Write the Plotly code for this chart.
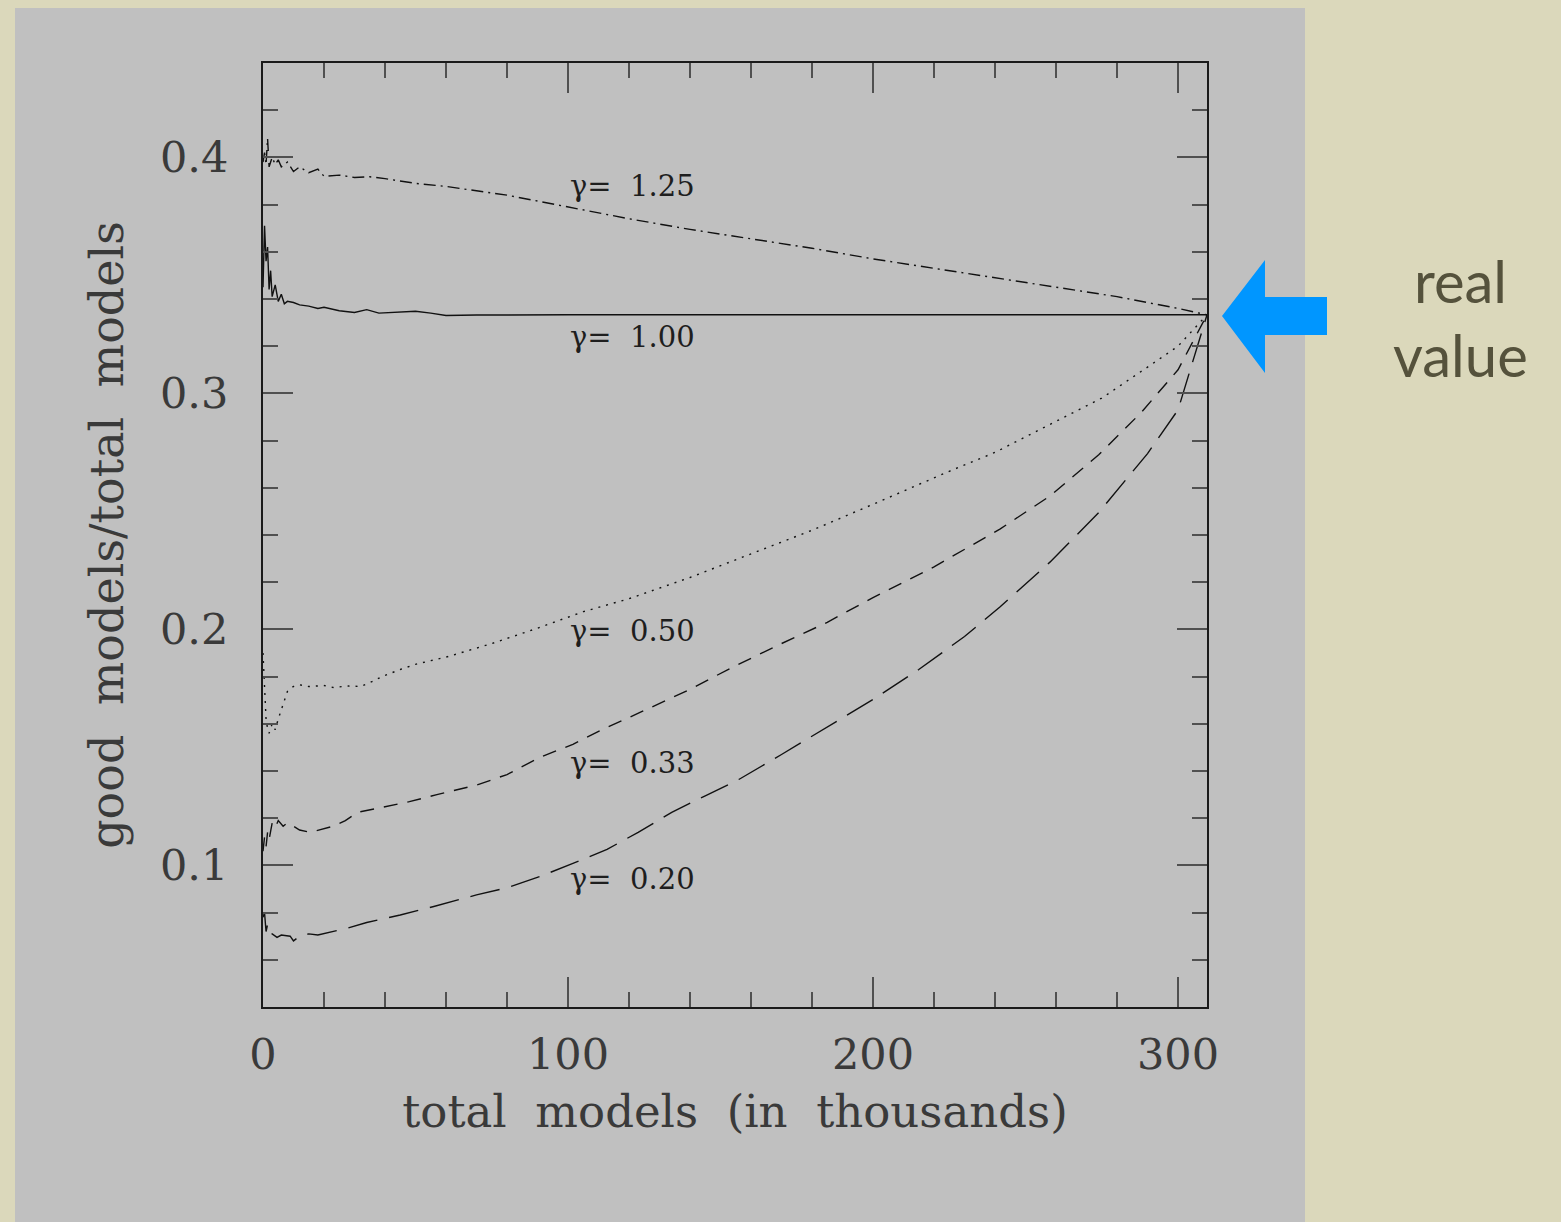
import plotly.graph_objects as go

# ---------------- data ----------------
x_125 = [0, 0.5, 1, 1.5, 2, 3, 4, 5, 6, 8, 10, 12, 15, 18, 20, 25, 30, 35, 40, 50, 60, 70, 80, 90, 100, 120, 140, 160, 180, 200, 220, 240, 260, 280, 300, 309.5]
y_125 = [0.398, 0.402, 0.397, 0.408, 0.396, 0.400, 0.397, 0.399, 0.396, 0.398, 0.394, 0.396, 0.3935, 0.395, 0.392, 0.3925, 0.3915, 0.3918, 0.391, 0.389, 0.3877, 0.386, 0.384, 0.3815, 0.379, 0.374, 0.3695, 0.3655, 0.3615, 0.357, 0.353, 0.349, 0.345, 0.341, 0.336, 0.3333]

x_100 = [0, 0.5, 1, 1.5, 2, 2.5, 3, 4, 5, 6, 7, 8, 10, 12, 15, 18, 20, 25, 30, 34, 38, 45, 50, 55, 60, 70, 80, 100, 150, 200, 250, 300, 309.5]
y_100 = [0.345, 0.371, 0.356, 0.362, 0.344, 0.352, 0.341, 0.346, 0.339, 0.342, 0.338, 0.339, 0.3385, 0.3375, 0.337, 0.336, 0.3365, 0.335, 0.3343, 0.3355, 0.334, 0.3345, 0.3348, 0.334, 0.333, 0.3332, 0.3333, 0.3333, 0.3333, 0.3333, 0.3335, 0.3333, 0.3333]

x_050 = [0, 0.5, 1, 1.5, 2, 3, 4, 5, 6, 7, 8, 9, 10, 12, 15, 20, 23, 28, 32, 36, 39, 45, 50, 61, 75, 90, 105, 120, 140, 160, 180, 200, 225, 240, 258, 275, 291, 300, 309.5]
y_050 = [0.190, 0.172, 0.162, 0.158, 0.156, 0.160, 0.1575, 0.162, 0.166, 0.170, 0.1737, 0.1750, 0.1758, 0.1765, 0.1758, 0.1762, 0.1754, 0.1760, 0.1758, 0.178, 0.180, 0.1830, 0.1852, 0.1886, 0.194, 0.2005, 0.2075, 0.213, 0.222, 0.232, 0.242, 0.253, 0.267, 0.275, 0.287, 0.298, 0.312, 0.320, 0.3333]

x_033 = [0, 0.5, 1, 1.5, 2, 3, 4, 5, 6.6, 8, 10, 12, 15.4, 18, 23, 27, 31, 39, 48, 57, 70, 80, 90.8, 101.6, 112, 123.6, 140, 153.8, 170, 185, 200, 220, 241.6, 258, 274, 288, 300, 309.5]
y_033 = [0.106, 0.112, 0.108, 0.114, 0.111, 0.118, 0.116, 0.119, 0.1166, 0.118, 0.1166, 0.1150, 0.114, 0.1150, 0.1166, 0.119, 0.1225, 0.1246, 0.127, 0.130, 0.134, 0.1385, 0.1458, 0.1513, 0.158, 0.1648, 0.1746, 0.1839, 0.194, 0.203, 0.2135, 0.2265, 0.2425, 0.2565, 0.2740, 0.292, 0.310, 0.3333]

x_020 = [0, 0.5, 1, 1.5, 2, 3, 4.6, 6, 8.9, 10, 12, 15, 18, 23, 28, 34, 40, 45, 56, 70, 80, 90.8, 101, 112.8, 123, 134, 145, 156, 170, 185, 200, 215, 230, 241.6, 258, 274, 290, 300, 309.5]
y_020 = [0.078, 0.080, 0.072, 0.075, 0.0716, 0.071, 0.0695, 0.0705, 0.0700, 0.068, 0.070, 0.071, 0.0705, 0.072, 0.0735, 0.0758, 0.0775, 0.079, 0.0826, 0.0875, 0.0905, 0.0953, 0.1005, 0.1068, 0.114, 0.1225, 0.1295, 0.1364, 0.147, 0.1585, 0.1703, 0.183, 0.197, 0.2095, 0.2285, 0.2495, 0.2745, 0.293, 0.3333]

labels = ["γ=  1.25", "γ=  1.00", "γ=  0.50", "γ=  0.33", "γ=  0.20"]
label_x = [100, 100, 100, 100, 100]
label_y = [0.3877, 0.3237, 0.1992, 0.1436, 0.0941]

x_ticks = [0, 100, 200, 300]
y_ticks = [0.1, 0.2, 0.3, 0.4]
y_tick_text = ["0.1", "0.2", "0.3", "0.4"]

# ---------------- figure ----------------
W, H = 1561, 1222
L, R, T, B = 263, 1207, 63, 1007
pw, ph = R - L, B - T


def px(xp):
    return (xp - L) / pw


def py(yp):
    return (B - yp) / ph


fig = go.Figure()
series = [
    (x_125, y_125, "dashdot", "12px,5px,2px,5px"),
    (x_100, y_100, "solid", "solid"),
    (x_050, y_050, "dot", "2px,6px"),
    (x_033, y_033, "dash", "14px,10px"),
    (x_020, y_020, "longdash", "30px,12px"),
]
for xs, ys, name, dash in series:
    fig.add_trace(go.Scatter(x=xs, y=ys, mode="lines", name=name,
                             line=dict(color="#111111", width=1.4, dash=dash),
                             showlegend=False))

for t, lx, ly in zip(labels, label_x, label_y):
    fig.add_annotation(x=lx, y=ly, text=t, showarrow=False, xanchor="left", yanchor="middle",
                       font=dict(family="DejaVu Serif", size=29, color="#1e1e1e"))

# gray panel
fig.add_shape(type="rect", xref="paper", yref="paper",
              x0=px(15), x1=px(1305), y0=py(1230), y1=py(8),
              fillcolor="#c0c0c0", line=dict(width=0), layer="below")

# blue arrow
pts = [(1222, 316), (1265, 260), (1265, 297), (1327, 297), (1327, 335), (1265, 335), (1265, 373)]
path = "M " + " L ".join(f"{px(a):.5f},{py(b):.5f}" for a, b in pts) + " Z"
fig.add_shape(type="path", xref="paper", yref="paper", path=path,
              fillcolor="#0096ff", line=dict(width=0), layer="above")

for txt, yy in [("real", 280), ("value", 355)]:
    fig.add_annotation(xref="paper", yref="paper", x=px(1460), y=py(yy), text=txt,
                       xanchor="center", yanchor="middle", showarrow=False,
                       font=dict(family="Lato", size=58, color="#55523c"))

tick_font = dict(family="DejaVu Serif", size=43, color="#3a3a3a")
axis_common = dict(showgrid=False, zeroline=False, showline=True, linecolor="#1a1a1a", linewidth=2,
                   ticks="inside", tickcolor="#505050", tickwidth=1.6, ticklen=30, mirror="allticks",
                   tickfont=tick_font)

fig.update_xaxes(range=[0, 309.5], tickvals=x_ticks, ticktext=[str(v) for v in x_ticks],
                 minor=dict(dtick=20, tick0=0, ticklen=15, ticks="inside", tickcolor="#505050", tickwidth=1.6),
                 title=dict(text="total  models  (in  thousands)", standoff=18,
                            font=dict(family="DejaVu Serif", size=45, color="#3a3a3a")),
                 ticklabelstandoff=8, **axis_common)
fig.update_yaxes(range=[0.04, 0.44], tickvals=y_ticks, ticktext=y_tick_text,
                 minor=dict(dtick=0.02, tick0=0, ticklen=15, ticks="inside", tickcolor="#505050", tickwidth=1.6),
                 title=dict(text="good  models/total  models", standoff=22,
                            font=dict(family="DejaVu Serif", size=46, color="#3a3a3a")),
                 ticklabelstandoff=24, **axis_common)

fig.update_layout(width=W, height=H, autosize=False,
                  margin=dict(l=L, r=W - R, t=T, b=H - B, pad=0),
                  paper_bgcolor="#dbd8bb", plot_bgcolor="#c0c0c0")

fig.write_html("out.html")
